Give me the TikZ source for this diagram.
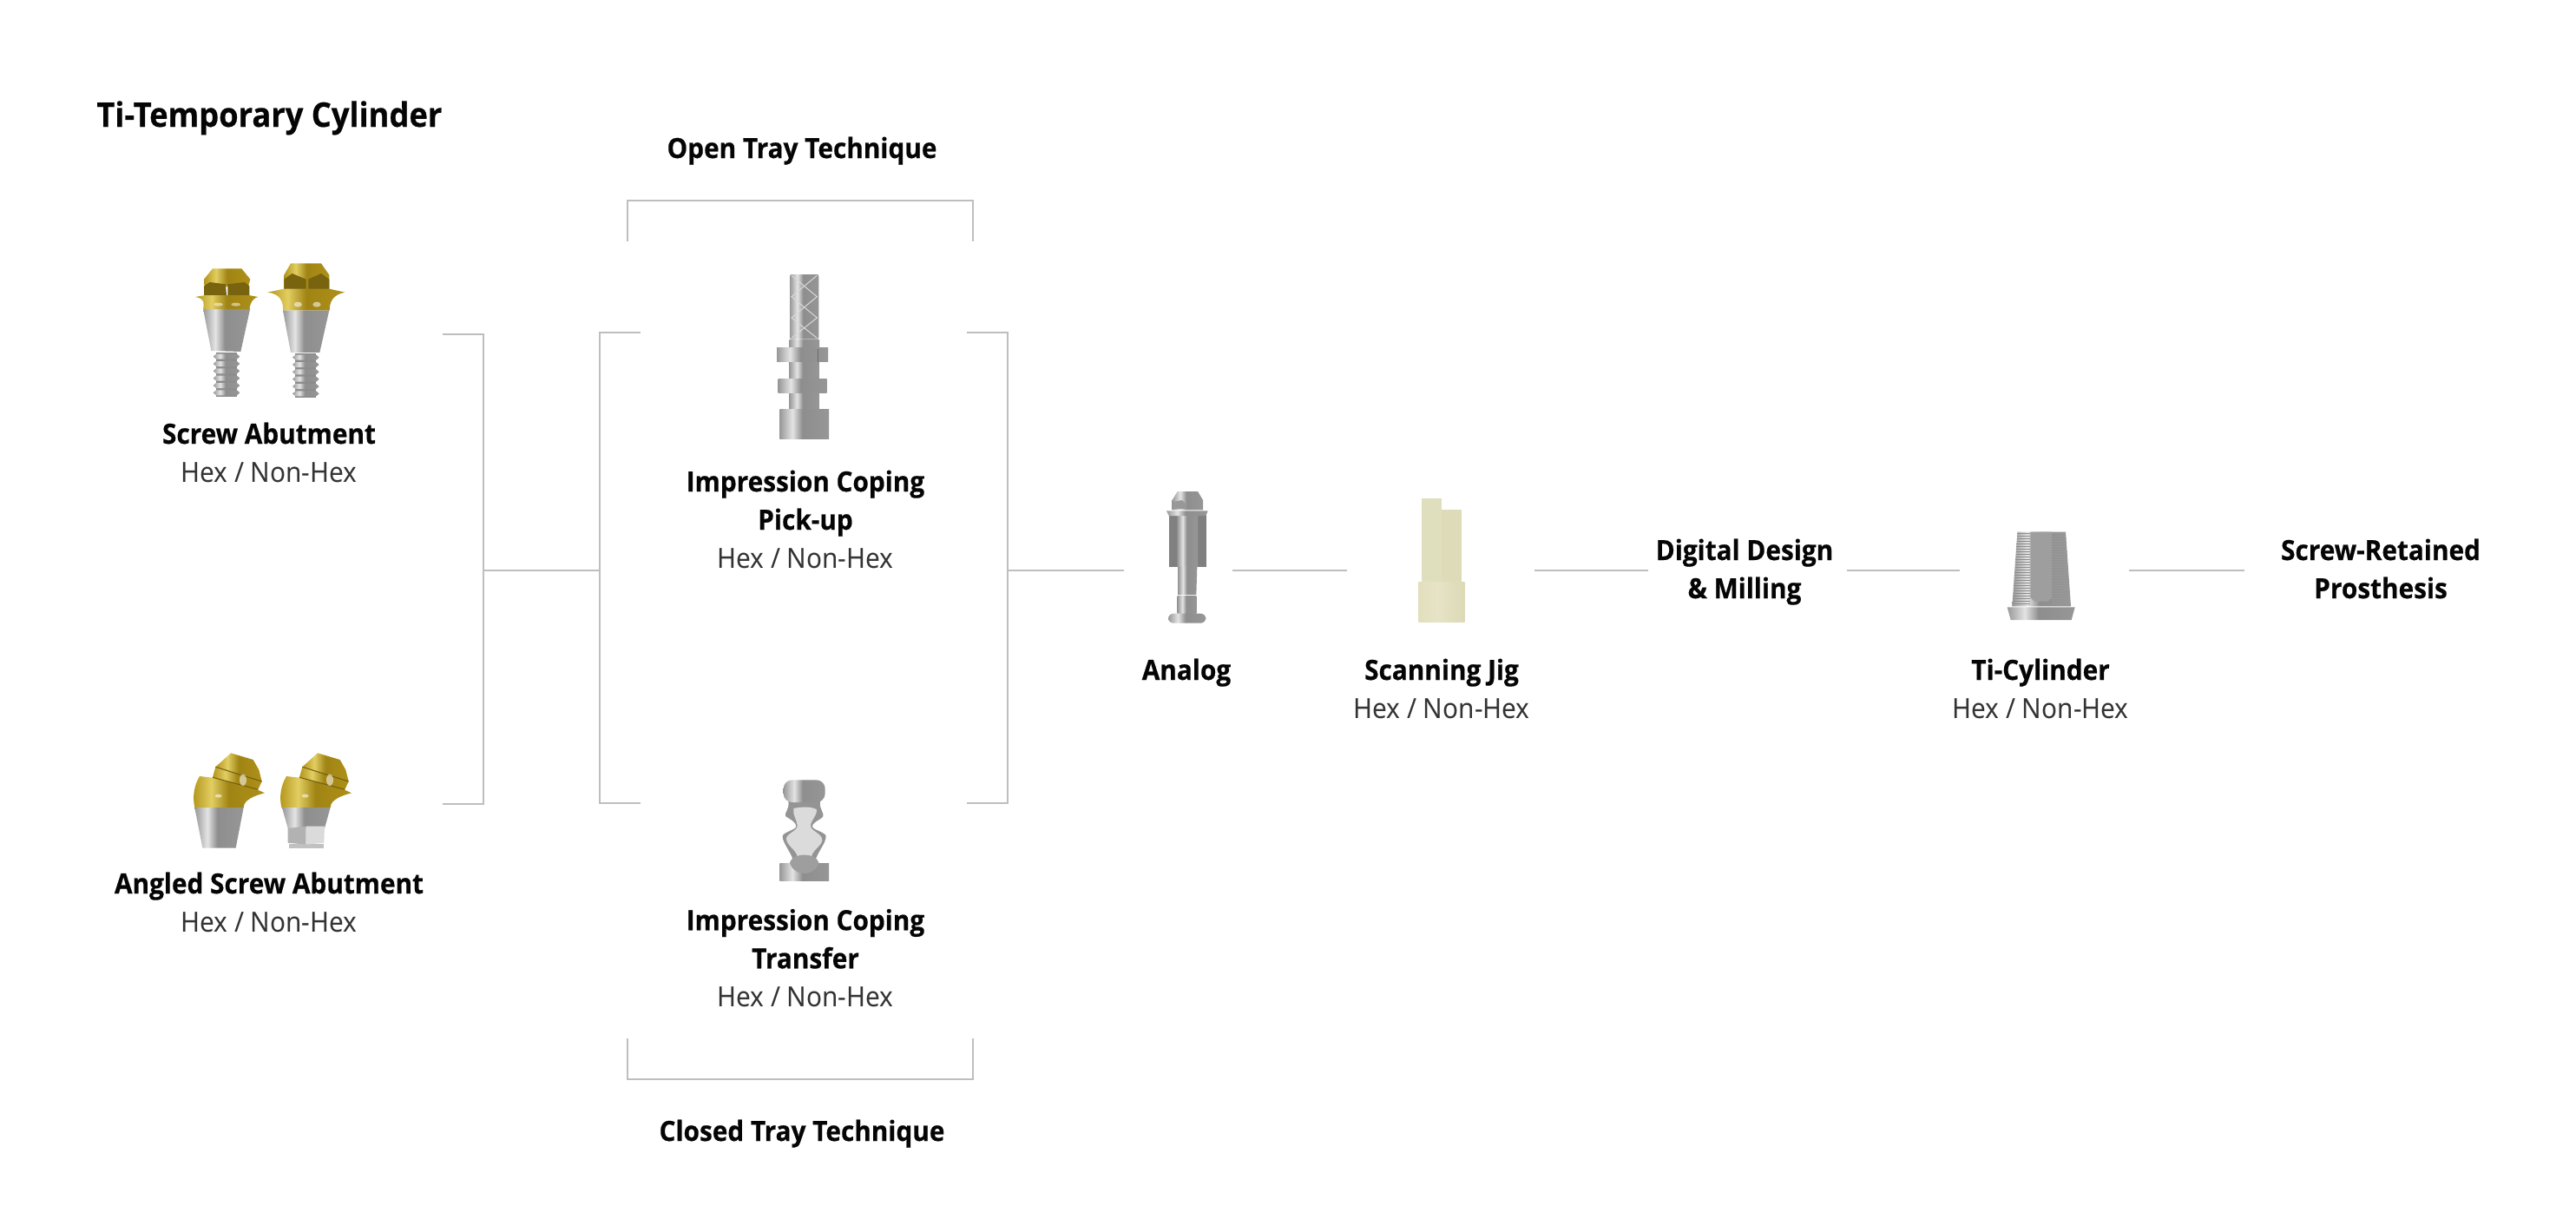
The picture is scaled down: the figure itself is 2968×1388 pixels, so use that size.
\documentclass[tikz,border=0pt]{standalone}
\usepackage{fontspec}
\setmainfont{Open Sans}[FakeStretch=0.93,BoldFeatures={FakeBold=0.5}]
\newfontfamily\lightfont{Noto Sans}[FakeStretch=0.93]
\definecolor{lineg}{HTML}{BEBEBE}
\definecolor{inkc}{HTML}{050505}
\definecolor{sa}{HTML}{6E6E6E}\definecolor{sb}{HTML}{989898}\definecolor{sc}{HTML}{E4E4E4}\definecolor{sd}{HTML}{8E8E8E}\definecolor{se}{HTML}{686868}
\definecolor{ga}{HTML}{7A660E}\definecolor{gb}{HTML}{B2941A}\definecolor{gc}{HTML}{E2CE62}\definecolor{gd}{HTML}{A08414}\definecolor{ge}{HTML}{705C0C}
\definecolor{ca}{HTML}{DBD9B2}\definecolor{cb}{HTML}{E6E4C6}\definecolor{cc}{HTML}{D2D0A8}
\pgfdeclarehorizontalshading{metalsh}{100bp}{color(0bp)=(sa);color(25bp)=(sb);color(38bp)=(sc);color(48bp)=(sd);color(80bp)=(sb);color(100bp)=(se)}
\pgfdeclarehorizontalshading{goldsh}{100bp}{color(0bp)=(ga);color(25bp)=(gb);color(38bp)=(gc);color(50bp)=(gd);color(82bp)=(gb);color(100bp)=(ge)}
\pgfdeclarehorizontalshading{creamsh}{100bp}{color(0bp)=(ca);color(45bp)=(cb);color(100bp)=(cc)}
\tikzset{
  conn/.style={draw=lineg,line width=1pt,line cap=butt,line join=miter},
  labelbox/.style={anchor=base,inner sep=0pt,align=center,text=inkc,font=\fontsize{16}{22}\selectfont\bfseries},
  titlebox/.style={anchor=base west,inner sep=0pt,text=inkc,font=\fontsize{19.5}{24}\selectfont\bfseries},
  metal/.style={shade,shading=metalsh},
  gold/.style={shade,shading=goldsh},
  cream/.style={shade,shading=creamsh},
}
\newcommand{\hexline}{{\lightfont\mdseries\color{black!80}Hex / Non-Hex}}
\newcommand{\screwthread}[3]{% cx, first y, half width
  \fill[black!45] (#1-#3+10,#2-15) rectangle (#1+#3-10,#2+138);
  \foreach \ii in {0,...,5}{
    \pgfmathsetmacro{\yy}{#2+25*\ii}
    \shade[metal] (#1-#3,\yy) -- (#1-#3+10,\yy-9) -- (#1+#3-10,\yy-9) -- (#1+#3,\yy) -- (#1+#3-10,\yy+9) -- (#1-#3+10,\yy+9) -- cycle;
  }}
\newcommand{\angledtop}{%
  \shade[gold] (120,132) .. controls (100,165) and (95,205) .. (103,240) -- (272,240) .. controls (272,225) and (285,205) .. (345,190) -- (305,172) -- (165,137) -- cycle;
  \shade[gold] (175,100) -- (335,150) -- (322,178) -- (165,136) -- cycle;
  \shade[gold] (228,52) -- (305,75) -- (325,110) -- (335,150) -- (175,100) -- cycle;
  \draw[ge,line width=.5pt] (165,136) -- (322,178);
  \draw[ge,line width=.5pt] (175,100) -- (335,150);
  \fill[white,opacity=.55] (185,200) ellipse (12 and 6);
  \fill[white,opacity=.55] (270,145) ellipse (12 and 20);
}
\begin{document}
\begin{tikzpicture}[x=0.5pt,y=-0.5pt]
\useasboundingbox (0,0) rectangle (2968,1388);
\fill[white] (0,0) rectangle (2968,1388);

% ---------- screw abutments
\begin{scope}[shift={(180,280)},scale=1/3]
  \screwthread{243}{392}{46}
  \shade[metal] (162,225) -- (325,225) -- (292,375) -- (190,372) -- cycle;
  \shade[gold] (195,88) -- (295,88) -- (325,125) -- (318,150) -- (168,150) -- (165,125) -- cycle;
  \fill[ge!88!gb] (165,148) -- (185,135) -- (240,142) -- (243,180) -- (165,180) -- cycle;
  \fill[ge!88!gb] (322,148) -- (305,135) -- (247,142) -- (247,180) -- (322,180) -- cycle;
  \shade[gold] (135,186) .. controls (170,190) and (165,215) .. (162,228) -- (322,228) .. controls (325,210) and (330,192) .. (352,186) -- (320,180) -- (170,180) -- cycle;
  \fill[white,opacity=.5] (215,212) ellipse (16 and 6);
  \fill[white,opacity=.5] (275,212) ellipse (16 and 6);
  \screwthread{517}{395}{46}
  \shade[metal] (438,232) -- (598,232) -- (565,378) -- (465,378) -- cycle;
  \shade[gold] (465,70) -- (570,70) -- (598,110) -- (598,160) -- (442,160) -- (442,110) -- cycle;
  \fill[ge!88!gb] (442,160) -- (442,125) -- (470,105) -- (518,125) -- (518,160) -- cycle;
  \fill[ge!88!gb] (598,160) -- (598,125) -- (570,105) -- (526,125) -- (526,160) -- cycle;
  \shade[gold] (385,170) .. controls (430,175) and (440,205) .. (438,232) -- (600,232) .. controls (598,205) and (610,178) .. (652,170) -- (598,158) -- (442,158) -- cycle;
  \fill[white,opacity=.55] (490,212) ellipse (14 and 9);
  \fill[white,opacity=.55] (555,212) ellipse (14 and 9);
\end{scope}

% ---------- angled abutments
\begin{scope}[shift={(190,850)},scale=1/3]
  \shade[metal] (103,240) -- (272,240) -- (245,380) -- (130,380) -- cycle;
  \angledtop
  \begin{scope}[shift={(300,0)}]
    \angledtop
  \end{scope}
  \shade[metal] (405,240) -- (572,240) -- (552,312) -- (425,312) -- cycle;
  \fill[sd!55!white] (430,365) -- (548,365) -- (548,380) -- (430,380) -- cycle;
  \fill[sb!75!white] (425,312) -- (488,305) -- (488,368) -- (425,362) -- cycle;
  \fill[sb!35!white] (488,305) -- (552,305) -- (550,362) -- (488,368) -- cycle;
\end{scope}

% ---------- impression coping pick-up
\begin{scope}[shift={(860,300)},scale=1/3]
  \shade[metal,rounded corners=1pt] (150,48) rectangle (250,272);
  \draw[white!85!black,line width=.5pt] (156,52) -- (244,125) -- (156,198) -- (244,268);
  \draw[white!85!black,line width=.5pt] (244,52) -- (156,125) -- (244,198) -- (156,268);
  \shade[metal] (148,275) rectangle (252,300);
  \shade[metal] (148,350) rectangle (250,410);
  \shade[metal] (148,458) rectangle (250,515);
  \shade[metal] (105,300) rectangle (282,350);
  \shade[metal] (110,408) rectangle (278,458);
  \fill[sd] (195,305) rectangle (198,350);
  \fill[se] (245,305) rectangle (250,350);
  \fill[sd] (190,412) rectangle (194,458);
  \shade[metal] (115,515) rectangle (285,615);
\end{scope}

% ---------- impression coping transfer
\begin{scope}[shift={(860,880)},scale=1/3]
  \shade[metal] (115,342) rectangle (285,403);
  \fill[black!42] (145,128) .. controls (150,155) and (130,170) .. (135,180) .. controls (150,190) and (172,200) .. (172,215) .. controls (172,228) and (125,235) .. (125,250) .. controls (125,275) and (160,310) .. (165,345) -- (235,345) .. controls (240,310) and (275,275) .. (275,250) .. controls (275,235) and (228,228) .. (228,215) .. controls (228,200) and (262,190) .. (265,180) .. controls (270,170) and (250,155) .. (255,128) -- cycle;
  \fill[black!14] (163,153) .. controls (200,146) and (225,148) .. (242,156) .. controls (247,175) and (222,195) .. (222,213) .. controls (222,232) and (262,240) .. (262,262) .. controls (262,280) and (232,295) .. (225,318) -- (176,318) .. controls (170,295) and (138,280) .. (138,258) .. controls (138,240) and (176,232) .. (176,213) .. controls (176,195) and (158,175) .. (163,153) -- cycle;
  \fill[black!38] (150,340) .. controls (160,305) and (240,305) .. (250,340) .. controls (245,365) and (220,378) .. (200,378) .. controls (180,378) and (155,365) .. (150,340) -- cycle;
  \shade[metal,rounded corners=5pt] (128,55) rectangle (272,132);
\end{scope}

% ---------- analog
\begin{scope}[shift={(1310,550)},scale=1/3]
  \shade[metal] (140,48) -- (210,48) -- (228,78) -- (228,112) -- (122,112) -- (122,78) -- cycle;
  \fill[sb] (122,108) -- (122,85) -- (155,78) -- (170,92) -- (170,108) -- cycle;
  \fill[black!50] (110,128) rectangle (240,308);
  \shade[metal] (140,128) rectangle (210,308);
  \shade[metal] (142,308) -- (208,308) -- (205,405) -- (142,405) -- cycle;
  \shade[metal] (140,408) rectangle (205,470);
  \shade[metal] (102,115) -- (245,115) -- (238,132) -- (110,132) -- cycle;
  \shade[metal,rounded corners=3pt] (108,470) rectangle (238,503);
\end{scope}

% ---------- scanning jig
\begin{scope}[shift={(1310,550)},scale=1/3]
  \fill[ca!85!white] (985,72) -- (1052,72) -- (1052,360) -- (985,360) -- cycle;
  \fill[ca!92!white] (1052,110) -- (1122,110) -- (1122,360) -- (1052,360) -- cycle;
  \shade[cream] (973,360) rectangle (1133,500);
\end{scope}

% ---------- ti-cylinder
\begin{scope}[shift={(2290,590)},scale=1/3]
  \shade[metal] (103,68) -- (270,68) -- (288,325) -- (85,325) -- cycle;
  \foreach \yy in {72,81,...,320}{
    \draw[black!45,line width=.25pt] (103-\yy/16+4,\yy) -- (148,\yy);
    \draw[black!40,line width=.25pt] (222,\yy) -- (266+\yy/16,\yy);
  }
  \fill[black!38] (148,68) -- (222,68) -- (222,295) -- (208,308) -- (162,308) -- (148,295) -- cycle;
  \shade[metal] (68,328) -- (302,328) -- (290,372) -- (80,372) -- cycle;
\end{scope}

% ---------- connectors
\coordinate (la) at (510,384.7);   \coordinate (lb) at (556.7,384.7);
\coordinate (lc) at (556.7,925.7); \coordinate (ld) at (510,925.7);
\coordinate (jl) at (556.7,656.7); \coordinate (jr) at (691,656.7);
\coordinate (ma) at (738,382.7);   \coordinate (mb) at (691,382.7);
\coordinate (mc) at (691,924.7);   \coordinate (md) at (738,924.7);
\coordinate (ra) at (1114,382.7);  \coordinate (rb) at (1161,382.7);
\coordinate (rc) at (1161,924.7);  \coordinate (rd) at (1114,924.7);
\coordinate (ta) at (723,277.7);   \coordinate (tb) at (723,230.7);
\coordinate (tc) at (1121,230.7);  \coordinate (td) at (1121,277.7);
\coordinate (ba) at (723,1196);    \coordinate (bb) at (723,1242.7);
\coordinate (bc) at (1121,1242.7); \coordinate (bd) at (1121,1196);
\coordinate (s1a) at (1161,656.7); \coordinate (s1b) at (1295,656.7);
\coordinate (s2a) at (1420,656.7); \coordinate (s2b) at (1552,656.7);
\coordinate (s3a) at (1768,656.7); \coordinate (s3b) at (1899,656.7);
\coordinate (s4a) at (2128,656.7); \coordinate (s4b) at (2258,656.7);
\coordinate (s5a) at (2453,656.7); \coordinate (s5b) at (2586,656.7);
\draw[conn] (la) -- (lb) -- (lc) -- (ld);
\draw[conn] (jl) -- (jr);
\draw[conn] (ma) -- (mb) -- (mc) -- (md);
\draw[conn] (ra) -- (rb) -- (rc) -- (rd);
\draw[conn] (ta) -- (tb) -- (tc) -- (td);
\draw[conn] (ba) -- (bb) -- (bc) -- (bd);
\draw[conn] (s1a) -- (s1b);
\draw[conn] (s2a) -- (s2b);
\draw[conn] (s3a) -- (s3b);
\draw[conn] (s4a) -- (s4b);
\draw[conn] (s5a) -- (s5b);

% ---------- text
\node[titlebox] (title) at (111,146) {Ti-Temporary Cylinder};
\node[labelbox] (opent) at (924,182) {Open Tray Technique};
\node[labelbox] (closedt) at (924,1314) {Closed Tray Technique};
\node[labelbox] (sa) at (310,555) {Screw Abutment\\\hexline};
\node[labelbox] (asa) at (310,1073) {Angled Screw Abutment\\\hexline};
\node[labelbox] (icp) at (928,654) {Impression Coping\\Pick-up\\\hexline};
\node[labelbox] (ict) at (928,1159.3) {Impression Coping\\Transfer\\\hexline};
\node[labelbox] (an) at (1367,783) {Analog};
\node[labelbox] (sj) at (1661,827) {Scanning Jig\\\hexline};
\node[labelbox] (tc2) at (2351,827) {Ti-Cylinder\\\hexline};
\node[labelbox] (dd) at (2010,689) {Digital Design\\\& Milling};
\node[labelbox] (srp) at (2743,689) {Screw-Retained\\Prosthesis};
\end{tikzpicture}
\end{document}
